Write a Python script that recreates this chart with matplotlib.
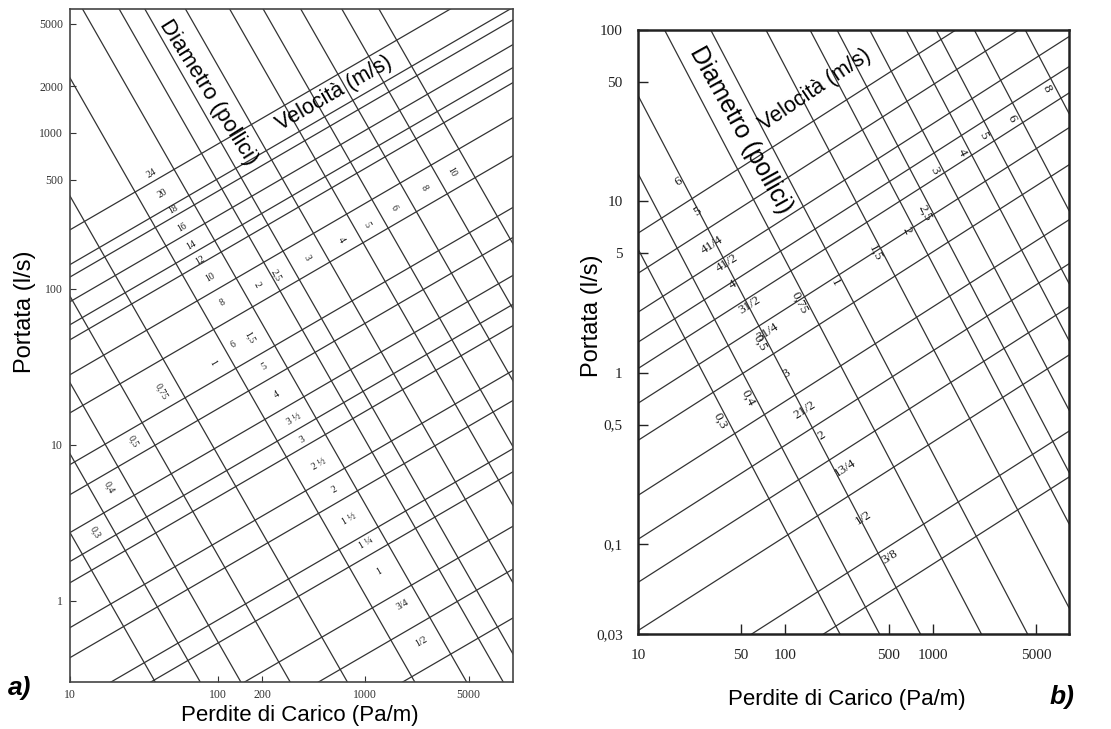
import numpy as np
import matplotlib
matplotlib.use("Agg")
import matplotlib.pyplot as plt

W, H = 1111, 729

# ---------------- panel a) ----------------
a_xticks = [10, 100, 200, 1000, 5000]
a_yticks = [1, 10, 100, 500, 1000, 2000, 5000]
a_diam_names = ["24", "20", "18", "16", "14", "12", "10", "8", "6", "5", "4",
                "3 ½", "3", "2 ½", "2", "1 ½", "1 ¼", "1", "3/4", "1/2"]
# flow (l/s) of every diameter line at 10 Pa/m
a_diam_q10 = [239, 143, 119, 82.6, 58.8, 47.1, 28.1, 16.0, 7.45, 4.78, 2.73,
              1.78, 1.30, 0.67, 0.43, 0.211, 0.150, 0.0671, 0.0356, 0.0173]
# where each diameter label sits (Pa/m, l/s)
a_diam_lab_dp = [35.8, 42.5, 49.7, 57.1, 65.7, 75.5, 88.3, 108, 128, 208, 251,
                 331, 375, 489, 618, 780, 1016, 1245, 1779, 2390]
a_diam_lab_q = [554, 412, 321, 249, 191, 153, 119, 81.3, 43.8, 31.6, 20.9,
                14.5, 10.8, 7.44, 5.15, 3.31, 2.35, 1.53, 0.943, 0.546]
a_vel_names = ["", "0,3", "0,4", "0,5", "0,75", "1", "1,5", "2", "2,5", "3",
               "4", "5", "6", "8", "10"]
# pressure loss (Pa/m) where every velocity line crosses 1 l/s
a_vel_dp1 = [18.3, 36.9, 69.5, 150, 366, 1047, 2350, 4160, 6210, 11700,
             23300, 39300, 70600, 134000, 239000]
# where each velocity label sits (Pa/m, l/s)
a_vel_lab_dp = [None, 14.8, 18.6, 26.7, 41.9, 92.5, 164, 184, 250, 405, 688,
                1016, 1570, 2506, 3873]
a_vel_lab_q = [None, 2.73, 5.30, 10.5, 21.9, 33.6, 49.2, 106, 123, 158, 206,
               257, 330, 444, 562]
a_diam_slope = 0.55
a_vel_slope = -1.66

# ---------------- panel b) ----------------
b_xticks = [10, 50, 100, 500, 1000, 5000]
b_xticklabels = ["10", "50", "100", "500", "1000", "5000"]
b_yticks = [0.03, 0.1, 0.5, 1, 5, 10, 50, 100]
b_yticklabels = ["0,03", "0,1", "0,5", "1", "5", "10", "50", "100"]
b_diam_names = ["6", "5", "41/4", "41/2", "4", "31/2", "31/4", "3", "21/2",
                "2", "13/4", "1/2", "3/8"]
b_diam_q10 = [6.53, 3.81, 2.26, 1.51, 1.06, 0.665, 0.404, 0.193, 0.107,
              0.060, 0.0314, 0.0113, 0.0061]
b_diam_lab_dp = [18.7, 25.1, 31.8, 40.1, 44.0, 57.4, 76.0, 102, 136, 177,
                 253, 335, 511]
b_diam_lab_q = [12.97, 8.66, 5.56, 4.36, 3.25, 2.48, 1.73, 0.995, 0.605,
                0.432, 0.277, 0.1435, 0.0839]
b_vel_names = ["0,3", "0,4", "0,5", "0,75", "1", "1,5", "2", "2,5", "3", "4",
               "5", "6", "8"]
b_vel_dp1 = [27.6, 51.2, 97, 251, 516, 1222, 2432, 3706, 6170, 10900,
             17400, 31600, 70000]
b_vel_lab_dp = [35.9, 55.7, 67.2, 125, 217, 404, 667, 883, 1032, 1575, 2185,
                3434, 5930]
b_vel_lab_q = [0.528, 0.711, 1.49, 2.55, 3.38, 4.99, 6.80, 8.55, 15.2, 19.4,
               24.4, 30.6, 45.8]
b_diam_slope = 0.55
b_vel_slope = -1.64

LINE = "#333333"


def label(ax, p, q, s, text, size):
    x0, y0 = ax.transData.transform((p, q))
    x1, y1 = ax.transData.transform((p * 2, q * 2 ** s))
    ang = np.degrees(np.arctan2(y1 - y0, x1 - x0))
    ax.text(p, q, text, rotation=ang, ha="center", va="center",
            fontsize=size, family="Liberation Serif", color="#1a1a1a")


def panel(ax, xlim, ylim, dq, dnames, dlp, dlq, ds,
          vp, vnames, vlp, vlq, vs, lsize):
    ax.set_xscale("log")
    ax.set_yscale("log")
    ax.set_xlim(*xlim)
    ax.set_ylim(*ylim)
    xs = np.array(xlim)
    for q in dq:
        ax.plot(xs, q * (xs / 10) ** ds, color=LINE, lw=0.9)
    for p1 in vp:
        ax.plot(xs, (xs / p1) ** vs, color=LINE, lw=0.9)
    for name, p, q in zip(dnames, dlp, dlq):
        label(ax, p, q, ds, name, lsize)
    for name, p, q in zip(vnames, vlp, vlq):
        if name:
            label(ax, p, q, vs, name, lsize)
    ax.minorticks_off()


fig = plt.figure(figsize=(W / 100, H / 100), dpi=100)

# a)
ax_a = fig.add_axes([70 / W, 47 / H, 443 / W, 673 / H])
panel(ax_a, (10, 10000), (0.3, 6240), a_diam_q10, a_diam_names,
      a_diam_lab_dp, a_diam_lab_q, a_diam_slope, a_vel_dp1, a_vel_names,
      a_vel_lab_dp, a_vel_lab_q, a_vel_slope, 7)
ax_a.set_xticks(a_xticks, [str(v) for v in a_xticks])
ax_a.set_yticks(a_yticks, [str(v) for v in a_yticks])
ax_a.tick_params(direction="in", length=4, width=0.8, labelsize=8.5, pad=5,
                 colors="#333333")
for t in ax_a.get_xticklabels() + ax_a.get_yticklabels():
    t.set_family("Liberation Serif")
for sp in ax_a.spines.values():
    sp.set_linewidth(1.2)
    sp.set_color("#444444")

# b)
ax_b = fig.add_axes([638 / W, 95 / H, 431 / W, 604 / H])
panel(ax_b, (10, 8360), (0.03, 100), b_diam_q10, b_diam_names,
      b_diam_lab_dp, b_diam_lab_q, b_diam_slope, b_vel_dp1, b_vel_names,
      b_vel_lab_dp, b_vel_lab_q, b_vel_slope, 9.5)
ax_b.set_xticks(b_xticks, b_xticklabels)
ax_b.set_yticks(b_yticks, b_yticklabels)
ax_b.tick_params(direction="in", length=7, width=1, labelsize=11, pad=11,
                 colors="#222222")
for t in ax_b.get_xticklabels() + ax_b.get_yticklabels():
    t.set_family("Liberation Serif")
for sp in ax_b.spines.values():
    sp.set_linewidth(1.8)
    sp.set_color("#222222")


def ftext(x, y, s, **kw):
    kw.setdefault("family", "Liberation Sans")
    fig.text(x / W, 1 - y / H, s, ha="center", va="center", **kw)


ftext(300, 715, "Perdite di Carico (Pa/m)", fontsize=16)
ftext(25, 312, "Portata (l/s)", fontsize=17, rotation=90)
ftext(847, 700, "Perdite di Carico (Pa/m)", fontsize=16)
ftext(592, 316, "Portata (l/s)", fontsize=17, rotation=90)
ftext(208, 92, "Diametro (pollici)", fontsize=16, rotation=-58)
ftext(334, 93, "Velocità (m/s)", fontsize=15.5, rotation=30)
ftext(741, 130, "Diametro (pollici)", fontsize=18, rotation=-61)
ftext(815, 90, "Velocità (m/s)", fontsize=15.5, rotation=34)
ftext(20, 688, "a)", fontsize=19, weight="bold", style="italic")
ftext(1062, 697, "b)", fontsize=19, weight="bold", style="italic")

fig.savefig("out.png", dpi=100, facecolor="white")
